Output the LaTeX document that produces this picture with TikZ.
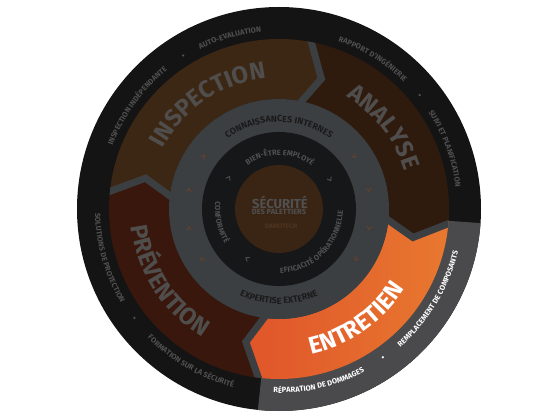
\documentclass[tikz,border=0pt]{standalone}
\usepackage{fontspec}
\setmainfont{Fira Sans}
\usetikzlibrary{decorations.text}
\definecolor{ringblack}{HTML}{141414}
\definecolor{ringgray}{HTML}{4A4A4C}
\definecolor{insp}{HTML}{3C2714}
\definecolor{anal}{HTML}{2F1B0E}
\definecolor{prev}{HTML}{39170C}
\definecolor{entA}{HTML}{E0552A}
\definecolor{entB}{HTML}{E8782F}
\definecolor{midgray}{HTML}{3C3F42}
\definecolor{innerblack}{HTML}{161718}
\definecolor{centerbrown}{HTML}{3A2515}
\definecolor{dimtext}{HTML}{505050}
\definecolor{seglabel}{HTML}{504E4C}
\definecolor{darktext}{HTML}{1A1A1A}
\definecolor{chevorange}{HTML}{6A3F25}
\definecolor{centertext}{HTML}{505050}
\definecolor{brandtext}{HTML}{4E3420}
\newcommand\cwtext[5]{\path[decorate,decoration={text along path,text={|#1|#2},text align=center}] ({#3+#4}:#5) arc[start angle={#3+#4}, end angle={#3-#4}, radius=#5];}
\newcommand\ccwtext[5]{\path[decorate,decoration={text along path,text={|#1|#2},text align=center}] ({#3-#4}:#5) arc[start angle={#3-#4}, end angle={#3+#4}, radius=#5];}
\newcommand\outf{\fontsize{7.5}{8}\selectfont\bfseries}
\newcommand\segf{\fontsize{24}{26}\selectfont\bfseries}
\newcommand\midf{\fontsize{9}{10}\selectfont\bfseries}
\newcommand\innf{\fontsize{7.5}{8}\selectfont\bfseries}
\tikzset{
  sepline/.style={line width=7pt, draw=midgray, line join=miter},
  smallchev/.style={line width=0.9pt, draw=chevorange, line cap=round, line join=round},
  innerchev/.style={line width=0.9pt, draw=dimtext, line cap=round, line join=round},
  ringdot/.style={fill=dimtext},
}
\begin{document}
\begin{tikzpicture}[x=1pt,y=1pt]
\useasboundingbox (-279,-208) rectangle (277,209);
\fill[white] (-279,-208) rectangle (277,209);
% outer ring
\fill[ringblack] (0,0) circle[radius=202];
\fill[ringgray] (0,0) -- (-4:202) arc[start angle=-4,end angle=-96,radius=202] -- cycle;
% segments
\fill[insp] (175:170) arc[start angle=175,end angle=80,radius=170] -- (72:137) -- (80:110) arc[start angle=80,end angle=175,radius=110] -- (167:137) -- cycle;
\fill[anal] (80:170) arc[start angle=80,end angle=-4,radius=170] -- (-12:137) -- (-4:110) arc[start angle=-4,end angle=80,radius=110] -- (72:137) -- cycle;
\shade[left color=entA,right color=entB] (-4:170) arc[start angle=-4,end angle=-96,radius=170] -- (-104:137) -- (-96:110) arc[start angle=-96,end angle=-4,radius=110] -- (-12:137) -- cycle;
\fill[prev] (264:170) arc[start angle=264,end angle=175,radius=170] -- (167:137) -- (175:110) arc[start angle=175,end angle=264,radius=110] -- (256:137) -- cycle;
\begin{scope}
\clip (0,0) circle[radius=170];
\foreach \t in {175,80,-4,-96} \draw[sepline] (\t:176) -- ({\t-8}:137) -- (\t:104);
\end{scope}
% middle rings
\fill[midgray] (0,0) circle[radius=110];
\fill[innerblack] (0,0) circle[radius=77];
\fill[centerbrown] (0,0) circle[radius=44];
% outer ring texts
\cwtext{\outf\color{dimtext}}{INSPECTION INDÉPENDANTE}{144}{30}{178}
\cwtext{\outf\color{dimtext}}{AUTO-EVALUATION}{106}{20}{178}
\cwtext{\outf\color{dimtext}}{RAPPORT D'INGÉNIERIE}{58}{25}{178}
\cwtext{\outf\color{dimtext}}{SUIVI ET PLANIFICATION}{20}{25}{178}
\ccwtext{\outf\color{white}}{REMPLACEMENT DE COMPOSANTS}{-31}{30}{184}
\ccwtext{\outf\color{white}}{RÉPARATION DE DOMMAGES}{-77}{25}{184}
\ccwtext{\outf\color{dimtext}}{FORMATION SUR LA SÉCURITÉ}{240}{25}{184}
\ccwtext{\outf\color{dimtext}}{SOLUTIONS DE PROTECTION}{196}{25}{184}
\fill[ringdot] (122:181) circle[radius=1.3];
\fill[ringdot] (39:181) circle[radius=1.3];
\fill[white] (-55:181) circle[radius=1.3];
\fill[ringdot] (217:181) circle[radius=1.3];
% segment labels
\cwtext{\segf\color{seglabel}}{INSPECTION}{124}{45}{131}
\cwtext{\segf\color{seglabel}}{ANALYSE}{38}{40}{131}
\ccwtext{\segf\color{seglabel}}{PRÉVENTION}{213}{45}{149}
\ccwtext{\segf\color{white}}{ENTRETIEN}{-55}{45}{149}
% middle ring texts
\cwtext{\midf\color{darktext}}{CONNAISSANCES INTERNES}{90}{60}{87}
\ccwtext{\midf\color{darktext}}{EXPERTISE EXTERNE}{-90}{50}{95}
\foreach \a in {145,168,192,213,35,12,-12,-33}
  \draw[smallchev, shift={(\a:92)}, rotate=\a] (-2,1.6) -- (0,-1.4) -- (2,1.6);
% inner ring texts
\cwtext{\innf\color{dimtext}}{BIEN-ÊTRE EMPLOYÉ}{89}{55}{54}
\ccwtext{\innf\color{dimtext}}{CONFORMITÉ}{193}{45}{64}
\ccwtext{\innf\color{dimtext}}{EFFICACITÉ OPÉRATIONNELLE}{-45}{75}{64}
\foreach \a in {148,30,237}
  \draw[innerchev, shift={(\a:59)}, rotate=\a] (-2.2,1.8) -- (0,-1.4) -- (2.2,1.8);
% center
\node[font=\fontsize{13}{14}\selectfont\bfseries, text=centertext, inner sep=0] (sec) at (1,7) {SÉCURITÉ};
\node[font=\fontsize{7.5}{8}\selectfont\bfseries, text=centertext, inner sep=0] (pal) at (0,-3) {DES PALETTIERS};
\node[font=\fontsize{6.5}{7}\selectfont\bfseries, text=brandtext, inner sep=0] (brand) at (2,-17) {DAMOTECH};
\end{tikzpicture}
\end{document}
